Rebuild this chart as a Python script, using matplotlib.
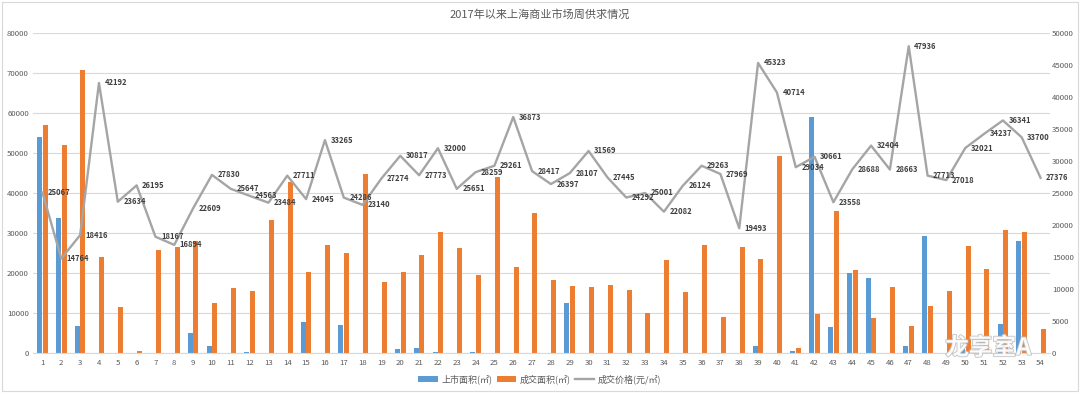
import matplotlib
matplotlib.use('Agg')
import matplotlib.pyplot as plt
import matplotlib.patheffects as pe
import numpy as np
from matplotlib.patches import Rectangle

plt.rcParams['font.family'] = ['Noto Sans CJK SC', 'DejaVu Sans']

weeks = [str(i) for i in range(1, 55)]

supply = [54000, 33700, 6800, 0, 0, 0, 0, 0, 4900, 1800,
          0, 300, 0, 0, 7750, 0, 6900, 0, 0, 1100,
          1300, 250, 0, 250, 0, 0, 0, 0, 12500, 0,
          0, 0, 0, 0, 0, 0, 0, 0, 1750, 0,
          600, 58900, 6400, 20100, 18800, 0, 1750, 29250, 0, 1000,
          3000, 7300, 28000, 0]

deal = [57000, 51900, 70800, 24100, 11600, 500, 25750, 26600, 28100, 12600,
        16300, 15600, 33250, 42750, 20300, 27100, 24900, 44800, 17700, 20250,
        24600, 30300, 26250, 19400, 44000, 21600, 35100, 18300, 16700, 16600,
        16900, 15700, 9900, 23300, 15300, 26900, 9100, 26600, 23600, 49200,
        1250, 9800, 35600, 20800, 8750, 16400, 6800, 11700, 15600, 26800,
        21000, 30750, 30300, 6100]

price = [25067, 14764, 18416, 42192, 23634, 26195, 18167, 16894, 22609, 27830,
         25647, 24563, 23484, 27711, 24045, 33265, 24286, 23140, 27274, 30817,
         27773, 32000, 25651, 28259, 29261, 36873, 28417, 26397, 28107, 31569,
         27445, 24292, 25001, 22082, 26124, 29263, 27969, 19493, 45323, 40714,
         29034, 30661, 23558, 28688, 32404, 28663, 47936, 27713, 27018, 32021,
         34237, 36341, 33700, 27376]

blue = '#5B9BD5'
orange = '#ED7D31'
gray = '#A5A5A5'
txt = '#595959'

fig = plt.figure(figsize=(10.8, 3.93), dpi=100)
ax = fig.add_axes([0.0306, 0.1018, 0.9416, 0.8142])
ax2 = ax.twinx()

x = np.arange(len(weeks))
w = 0.27
ax.bar(x - 0.15, supply, w, color=blue, label='上市面积(㎡)', zorder=2)
ax.bar(x + 0.15, deal, w, color=orange, label='成交面积(㎡)', zorder=2)
ax2.plot(x, price, color=gray, lw=1.7, label='成交价格(元/㎡)', zorder=3)

# data labels to the right of each point
for i, v in enumerate(price):
    ax2.annotate(str(v), (x[i], v), xytext=(4, 0), textcoords='offset points',
                 ha='left', va='center', fontsize=5.5, fontweight='bold',
                 color='#404040')

ax.set_xlim(-0.5, len(weeks) - 0.5)
ax.set_ylim(0, 80000)
ax.set_yticks(np.arange(0, 80001, 10000))
ax2.set_ylim(0, 50000)
ax2.set_yticks(np.arange(0, 50001, 5000))
ax.set_xticks(x)
ax.set_xticklabels(weeks)

ax.grid(axis='y', color='#D9D9D9', lw=0.8, zorder=0)
ax.set_axisbelow(True)
for a in (ax, ax2):
    for s in a.spines.values():
        s.set_visible(False)
    a.tick_params(length=0, labelsize=5.6, colors=txt)
ax.spines['bottom'].set_visible(True)
ax.spines['bottom'].set_color('#D9D9D9')
ax.tick_params(axis='x', pad=4)
ax.tick_params(axis='y', pad=3)
ax2.tick_params(axis='y', pad=1.5)

fig.text(0.5, 0.964, '2017年以来上海商业市场周供求情况', ha='center', va='center',
         fontsize=8, color=txt)

h1, l1 = ax.get_legend_handles_labels()
h2, l2 = ax2.get_legend_handles_labels()
fig.legend(h1 + h2, l1 + l2, loc='center', bbox_to_anchor=(0.5, 0.035), ncol=3,
           frameon=False, fontsize=6.5, labelcolor=txt, handlelength=2.2,
           handleheight=0.6, columnspacing=0.4, handletextpad=0.4)

# watermark
fig.text(0.915, 0.115, '龙享室A', ha='center', va='center', fontsize=17,
         color='#FFFFFF', alpha=0.85, fontweight='bold',
         path_effects=[pe.withStroke(linewidth=1.2, foreground='#BBBBBB')])

fig.patches.append(Rectangle((0.002, 0.005), 0.996, 0.99, transform=fig.transFigure,
                             fill=False, edgecolor='#D9D9D9', lw=0.8))

fig.savefig('out.png', dpi=100)
